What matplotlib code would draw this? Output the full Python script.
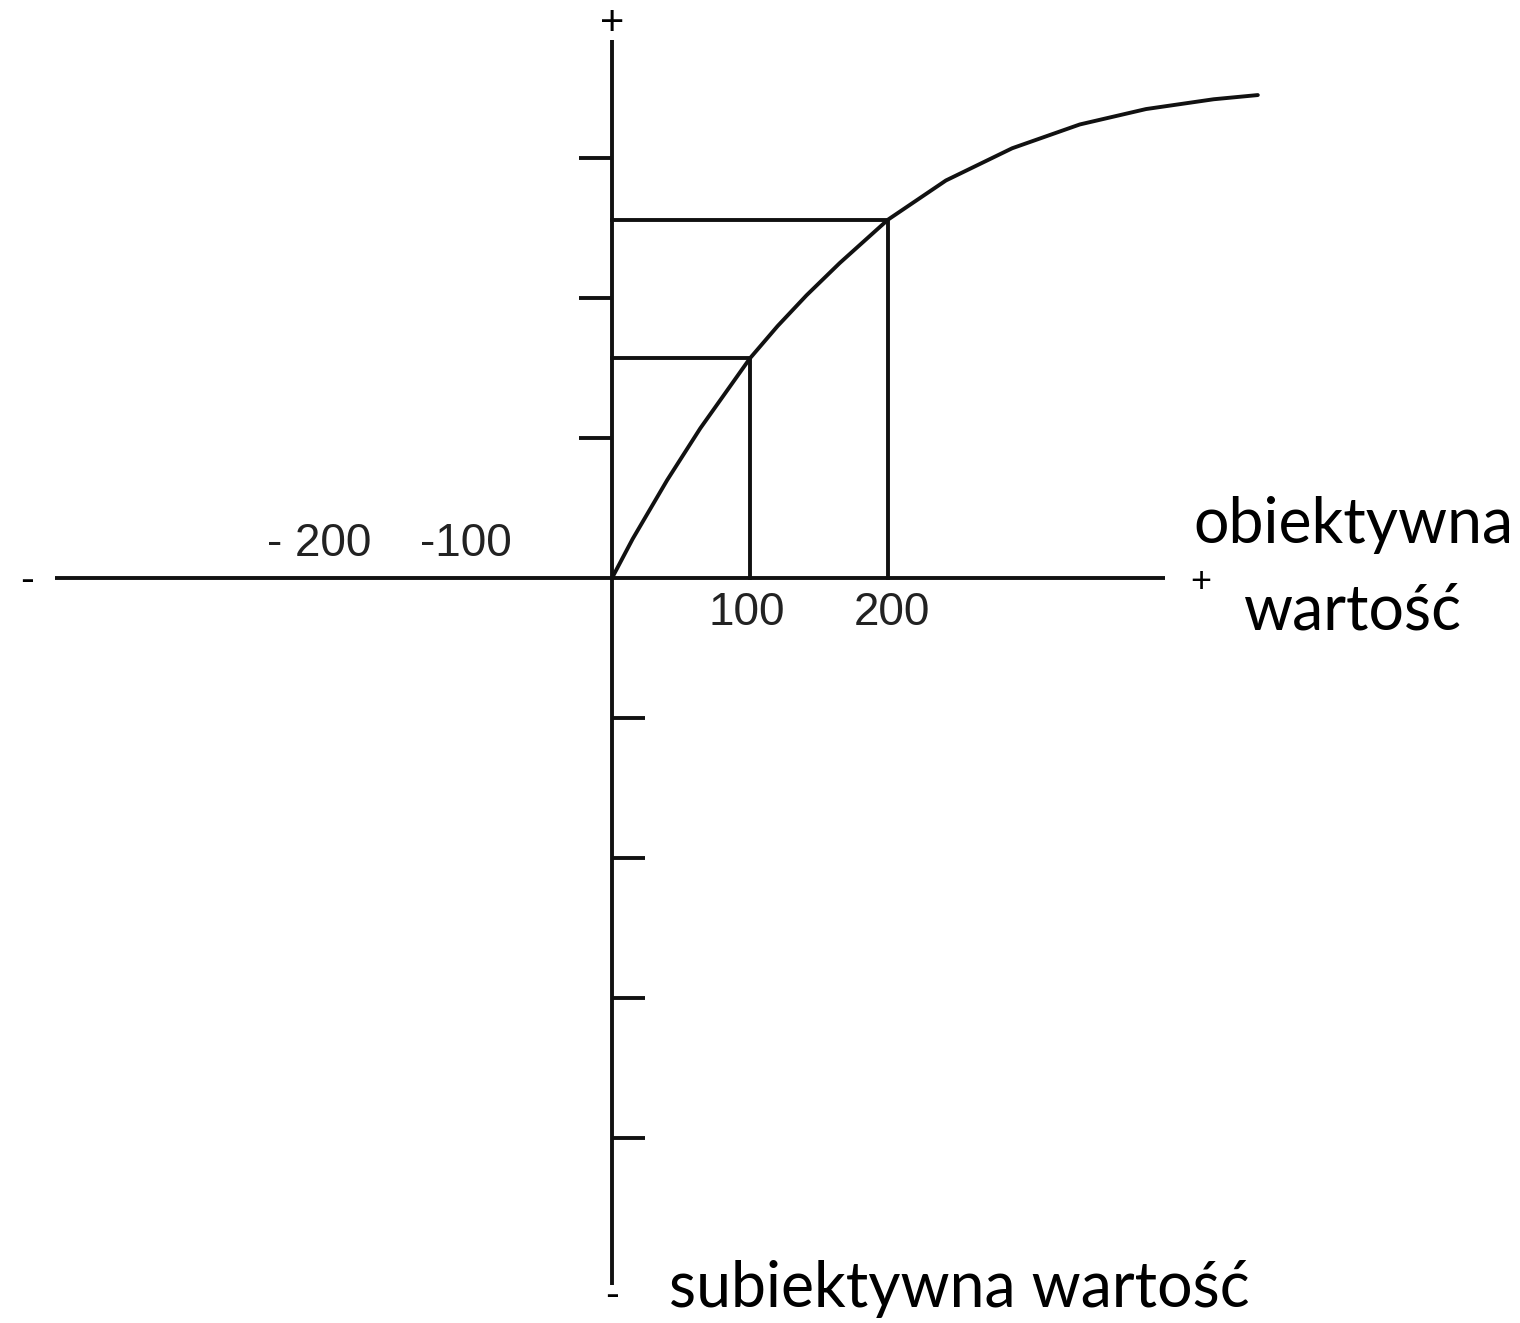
import matplotlib.pyplot as plt

# value curve (objective value -> subjective value)
obj_x = [0, 15, 40, 64, 100, 120, 141, 165, 200, 242, 290, 339, 387, 436, 468]
subj_y = [0, 0.28, 0.70, 1.07, 1.57, 1.80, 2.02, 2.25, 2.56, 2.84, 3.07, 3.24, 3.35, 3.42, 3.45]

# reference points with guide lines
marked_x = [100, 200]
marked_y = [1.57, 2.56]

# axis extents and tick marks
x_range = [-404, 401]
y_range = [-5.05, 3.84]
ticks_up = [1, 2, 3]
ticks_down = [-1, -2, -3, -4]
tick_len = 24

neg_labels = ["- 200", "-100"]
neg_label_x = [-212, -106]
pos_labels = ["100", "200"]
pos_label_x = [98, 203]

LW = 2.8
INK = "#111111"

fig = plt.figure(figsize=(15.2, 13.23), dpi=100)
ax = fig.add_axes([0, 0, 1, 1])
ax.set_xlim(-443.5, 658)
ax.set_ylim(-5.321, 4.129)
ax.axis("off")

# axes
ax.plot(x_range, [0, 0], color=INK, lw=LW, solid_capstyle="butt")
ax.plot([0, 0], y_range, color=INK, lw=LW, solid_capstyle="butt")
ax.hlines(ticks_up, -tick_len, 0, color=INK, lw=LW)
ax.hlines(ticks_down, 0, tick_len, color=INK, lw=LW)

# curve
ax.plot(obj_x, subj_y, color=INK, lw=LW, solid_capstyle="round", solid_joinstyle="round")

# guide lines
for mx, my in zip(marked_x, marked_y):
    ax.plot([0, mx, mx], [my, my, 0], color=INK, lw=LW)

# tick labels
for lab, lx in zip(neg_labels, neg_label_x):
    ax.text(lx, 0.24, lab, ha="center", va="center", fontsize=33,
            family="Liberation Sans", color="#222222")
for lab, lx in zip(pos_labels, pos_label_x):
    ax.text(lx, -0.25, lab, ha="center", va="center", fontsize=33,
            family="Liberation Sans", color="#222222")

# axis end signs
ax.text(-424, -0.02, "-", ha="center", va="center", fontsize=30, family="Liberation Sans")
ax.text(427, -0.03, "+", ha="center", va="center", fontsize=26, family="Liberation Sans")
ax.text(0, 3.96, "+", ha="center", va="center", fontsize=30, family="Liberation Sans")
ax.text(0, -5.13, "-", ha="center", va="center", fontsize=30, family="Liberation Sans")

# axis titles
ax.text(537, 0.38, "obiektywna", ha="center", va="center", fontsize=45, family="Lato")
ax.text(537, -0.24, "wartość", ha="center", va="center", fontsize=45, family="Lato")
ax.text(252, -5.08, "subiektywna wartość", ha="center", va="center", fontsize=45, family="Lato")

fig.savefig("out.png", dpi=100)
